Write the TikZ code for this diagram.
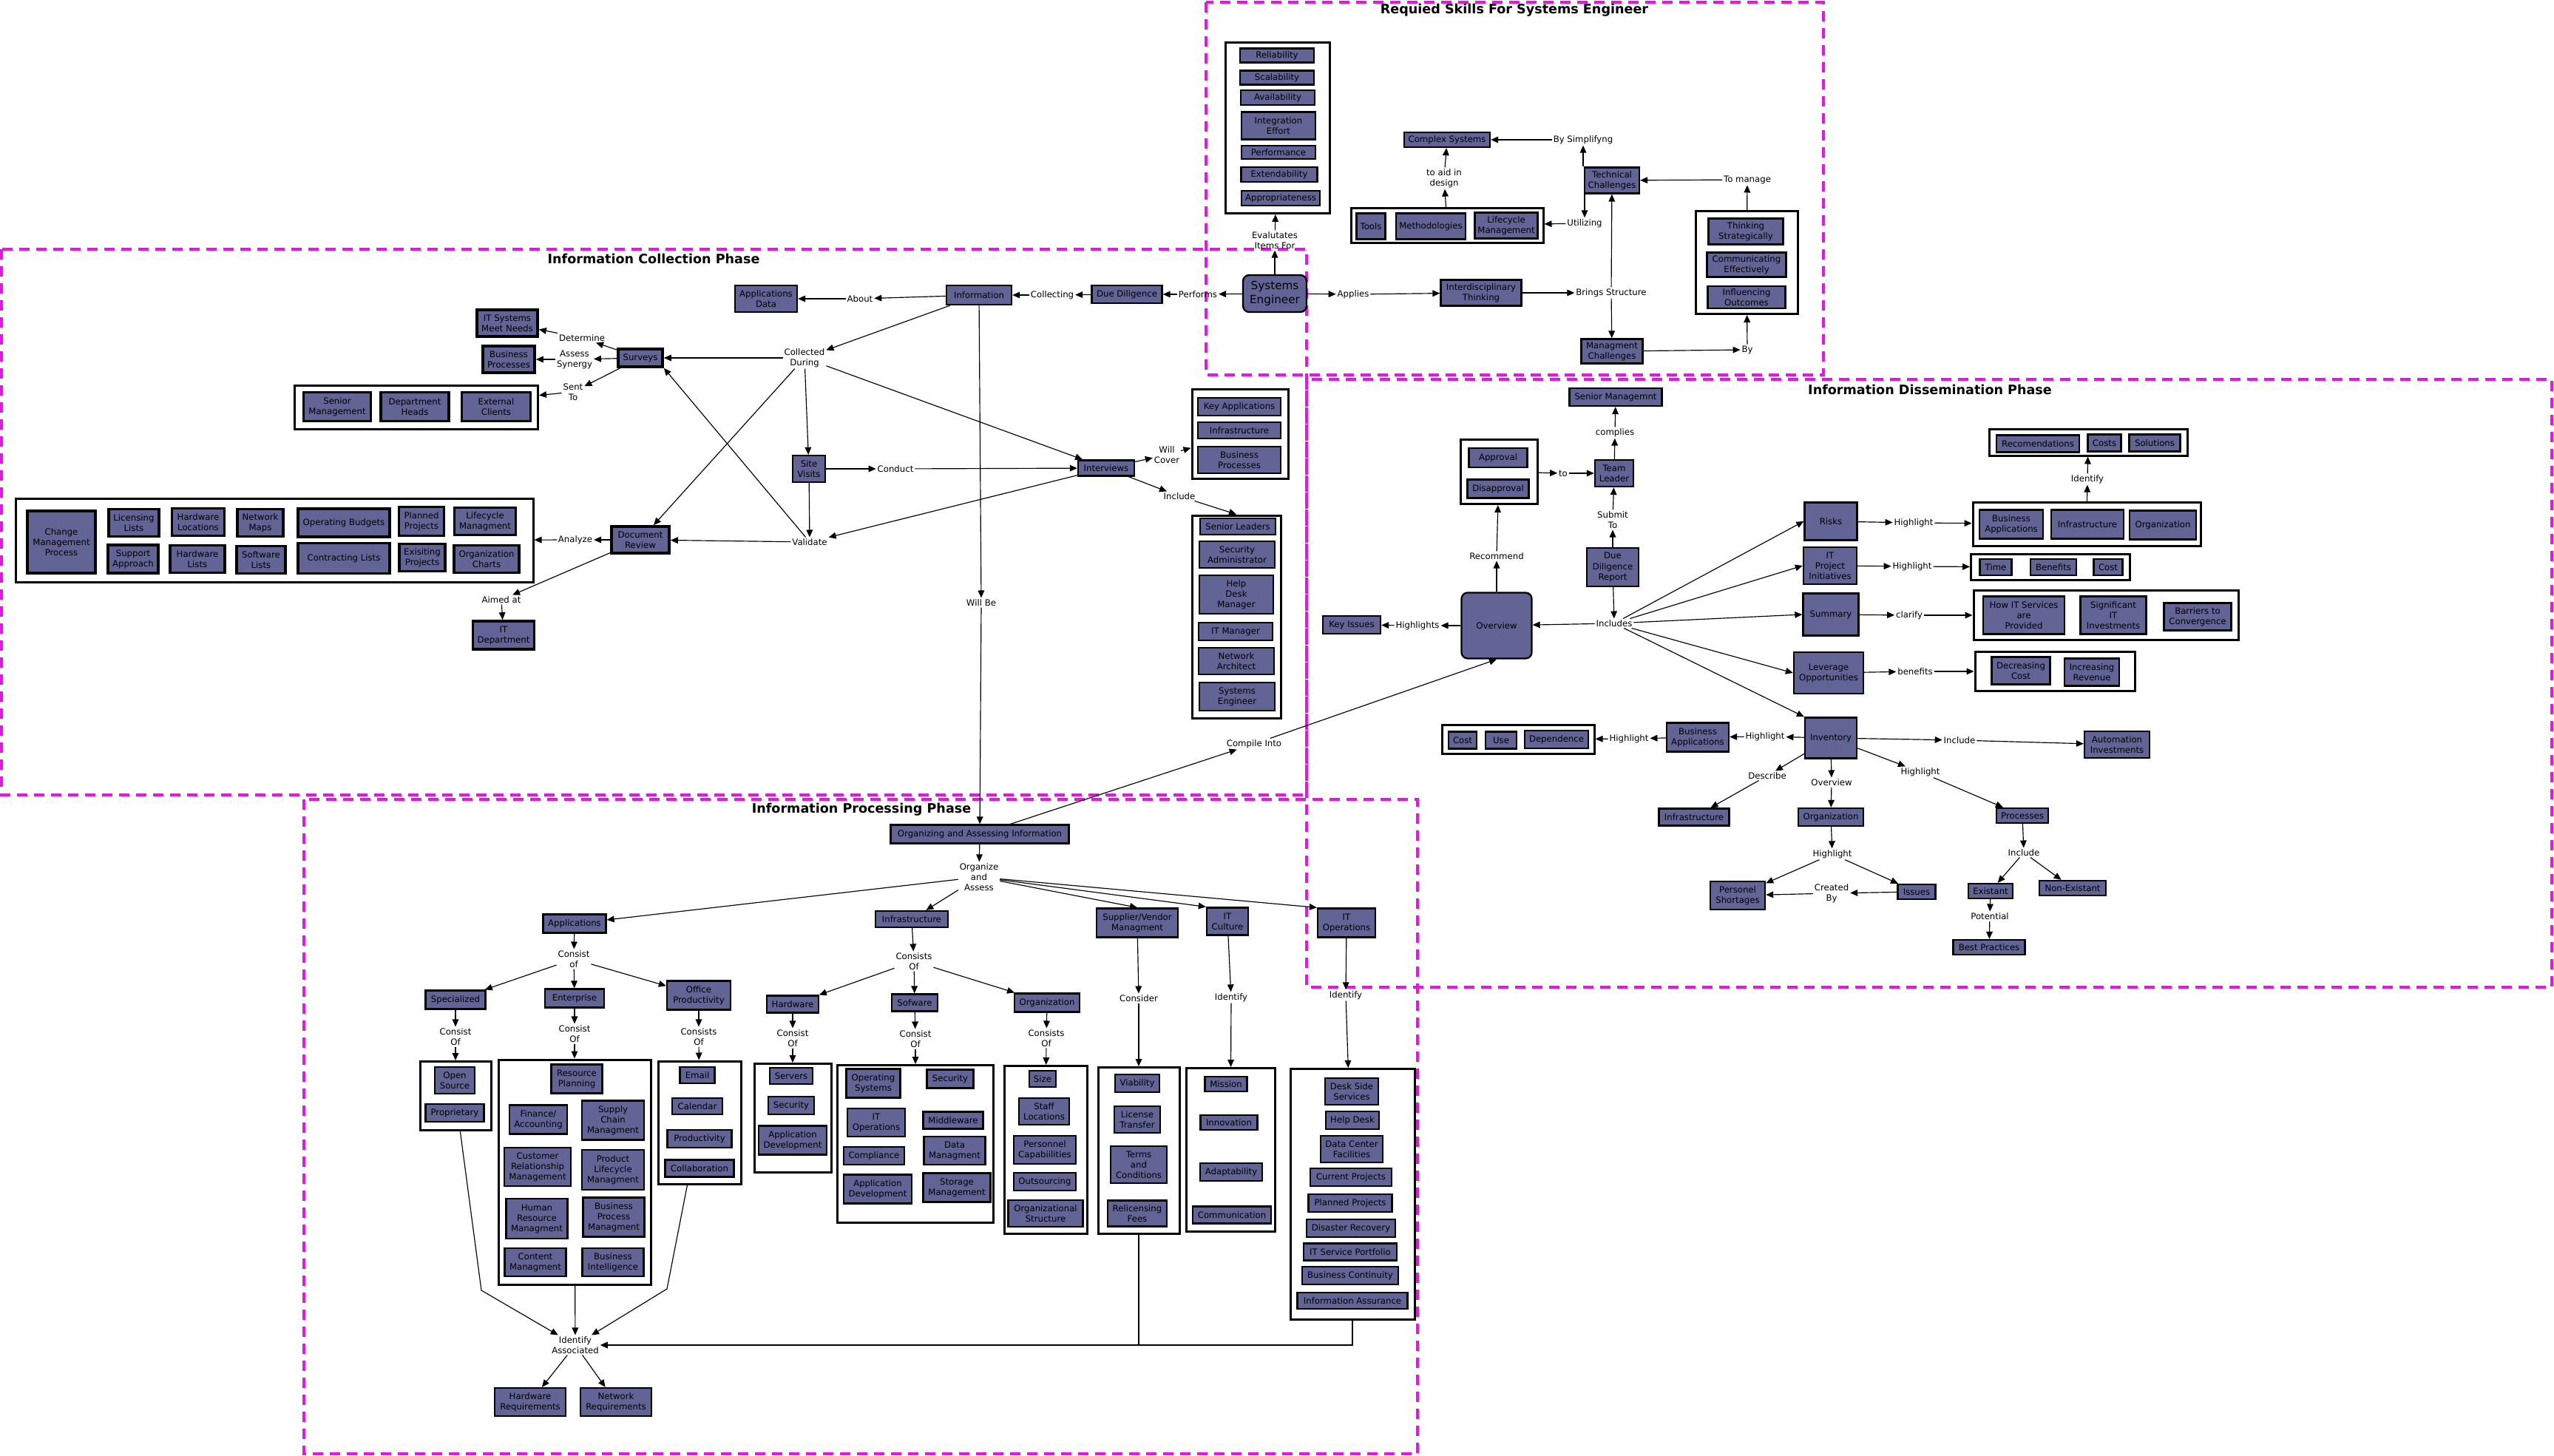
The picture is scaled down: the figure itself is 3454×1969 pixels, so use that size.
\documentclass[tikz,border=0pt]{standalone}
\usepackage{fontspec}
\setmainfont{DejaVu Sans}
\usetikzlibrary{arrows.meta}
\definecolor{nodefill}{RGB}{98,100,150}
\definecolor{phasemag}{RGB}{230,20,230}

\begin{document}
\begin{tikzpicture}[
  x=0.3mm, y=-0.3mm,
  font=\fontsize{10}{12}\selectfont,
  box/.style={draw, line width=0.7mm, fill=nodefill, align=center, inner sep=1pt},
  tbox/.style={box, line width=1.1mm},
  rbox/.style={box, rounded corners=2.5mm},
  grp/.style={draw, line width=0.9mm, fill=white, inner sep=0pt},
  lbl/.style={align=center, inner sep=1.5pt},
  wh/.style 2 args={minimum width=#1*0.3mm, minimum height=#2*0.3mm},
  ar/.style={-{Triangle[length=3mm,width=2.6mm]}, line width=0.35mm},
  ln/.style={line width=0.35mm},
  phase/.style={draw=phasemag, line width=1.2mm, dash pattern=on 4.2mm off 2.7mm},
  ttl/.style={font=\bfseries\fontsize{15}{18}\selectfont, inner sep=0pt}
]
\useasboundingbox (0,0) rectangle (3454,1969);
\draw[phase] (1631,3) rectangle (2466,507);
\draw[phase] (2,337) rectangle (1767,1075);
\draw[phase] (1767,513) rectangle (3451,1335);
\draw[phase] (411,1081) rectangle (1917,1966);

\node[ttl] (tskill) at (2048,14) {Requied Skills For Systems Engineer};
\node[ttl] (tcoll) at (884,350) {Information Collection Phase};
\node[ttl] (tdiss) at (2610,527) {Information Dissemination Phase};
\node[ttl] (tproc) at (1165,1095) {Information Processing Phase};

\node[grp, wh={141}{231}] (qual) at (1728,173) {};
\node[box, wh={100}{19}] (rel) at (1727,75) {Reliability};
\node[box, wh={100}{19}] (scal) at (1727,105) {Scalability};
\node[box, wh={100}{20}] (avail) at (1728,132) {Availability};
\node[box, wh={100}{37}] (integ) at (1729,170) {Integration\\Effort};
\node[box, wh={100}{18}] (perf) at (1729,206) {Performance};
\node[box, wh={103}{20}] (extd) at (1730,236) {Extendability};
\node[box, wh={106}{20}] (appr) at (1732,268) {Appropriateness};
\node[box, wh={116}{20}] (cplx) at (1957,189) {Complex Systems};
\node[box, wh={74}{35}] (tech) at (2180,244) {Technical\\Challenges};
\node[box, wh={83}{33}] (mgmt) at (2180,475) {Managment\\Challenges};
\node[box, wh={109}{35}] (inter) at (2003,396) {Interdisciplinary\\Thinking};
\node[grp, wh={138}{139}] (thinkg) at (2362,355) {};
\node[box, wh={101}{35}] (strat) at (2361,313) {Thinking\\Strategically};
\node[box, wh={107}{33}] (comm) at (2362,358) {Communicating\\Effectively};
\node[box, wh={105}{30}] (infl) at (2362,402) {Influencing\\Outcomes};
\node[grp, wh={260}{47}] (toolg) at (1957,305) {};
\node[box, wh={39}{35}] (tools) at (1854,306) {Tools};
\node[box, wh={94}{35}] (meth) at (1935,306) {Methodologies};
\node[box, wh={85}{35}] (lifec) at (2037,305) {Lifecycle\\Management};
\node[rbox, wh={86}{50}, font=\fontsize{13}{16}\selectfont] (se) at (1724,397) {Systems\\Engineer};
\node[lbl] (evl) at (1724,325) {Evalutates\\Items For};
\node[lbl] (appl) at (1830,398) {Applies};
\node[lbl] (brings) at (2179,396) {Brings Structure};
\node[lbl] (simp) at (2141,189) {By Simplifyng};
\node[lbl] (aid) at (1953,241) {to aid in\\design};
\node[lbl] (util) at (2143,302) {Utilizing};
\node[lbl] (tomng) at (2363,243) {To manage};
\node[lbl] (byl) at (2363,473) {By};

\node[lbl] (perfm) at (1620,398) {Performs};
\node[box, wh={95}{24}] (dd) at (1524,398) {Due Diligence};
\node[lbl] (collg) at (1423,399) {Collecting};
\node[box, wh={88}{26}] (info) at (1324,399) {Information};
\node[lbl] (about) at (1163,404) {About};
\node[box, wh={84}{36}] (appdata) at (1036,404) {Applications\\Data};
\node[lbl] (colld) at (1088,484) {Collected\\During};
\node[box, wh={44}{36}] (site) at (1094,634) {Site\\Visits};
\node[lbl] (conduct) at (1211,634) {Conduct};
\node[box, wh={76}{21}] (intv) at (1496,633) {Interviews};
\node[lbl] (cover) at (1578,615) {Will\\Cover};
\node[grp, wh={130}{121}] (topics) at (1677,587) {};
\node[box, wh={112}{24}] (keyapp) at (1676,550) {Key Applications};
\node[box, wh={112}{22}] (tinfra) at (1676,582) {Infrastructure};
\node[box, wh={112}{36}] (tbusp) at (1676,622) {Business\\Processes};
\node[lbl] (incl) at (1595,671) {Include};
\node[grp, wh={120}{274}] (people) at (1672,834) {};
\node[box, wh={102}{22}] (snrl) at (1674,712) {Senior Leaders};
\node[box, wh={102}{36}] (secadm) at (1673,750) {Security\\Administrator};
\node[box, wh={100}{52}] (hdm) at (1672,804) {Help\\Desk\\Manager};
\node[box, wh={100}{24}] (itmgr) at (1671,854) {IT Manager};
\node[box, wh={102}{36}] (netarch) at (1672,894) {Network\\Architect};
\node[box, wh={102}{38}] (syseng) at (1673,942) {Systems\\Engineer};
\node[lbl] (valid) at (1095,733) {Validate};
\node[lbl] (willbe) at (1327,815) {Will Be};
\node[lbl] (compile) at (1696,1006) {Compile Into};
\node[tbox, wh={60}{24}] (surveys) at (866,484) {Surveys};
\node[lbl] (determ) at (787,457) {Determine};
\node[tbox, wh={82}{36}] (itsys) at (686,437) {IT Systems\\Meet Needs};
\node[lbl] (assess) at (777,486) {Assess\\Synergy};
\node[tbox, wh={70}{36}] (cbusp) at (688,486) {Business\\Processes};
\node[lbl] (sent) at (775,530) {Sent\\To};
\node[grp, wh={329}{59}] (stake) at (563,551) {};
\node[tbox, wh={91}{39}] (snrm) at (456,550) {Senior\\Management};
\node[tbox, wh={92}{39}] (deph) at (561,550) {Department\\Heads};
\node[tbox, wh={93}{39}] (extc) at (671,550) {External\\Clients};
\node[grp, wh={700}{113}] (docs) at (371,731) {};
\node[tbox, wh={92}{84}] (chg) at (83,733) {Change\\Management\\Process};
\node[tbox, wh={68}{37}] (lic) at (181,707) {Licensing\\Lists};
\node[tbox, wh={71}{37}] (hwloc) at (268,706) {Hardware\\Locations};
\node[tbox, wh={62}{37}] (netmap) at (352,707) {Network\\Maps};
\node[tbox, wh={124}{38}] (opbud) at (465,707) {Operating Budgets};
\node[tbox, wh={61}{39}] (plan) at (570,705) {Planned\\Projects};
\node[tbox, wh={83}{37}] (lifem) at (656,705) {Lifecycle\\Managment};
\node[tbox, wh={68}{38}] (supp) at (180,756) {Support\\Approach};
\node[tbox, wh={74}{37}] (hwl) at (267,756) {Hardware\\Lists};
\node[tbox, wh={66}{37}] (swl) at (353,757) {Software\\Lists};
\node[tbox, wh={124}{41}] (contr) at (465,755) {Contracting Lists};
\node[tbox, wh={62}{37}] (exis) at (571,754) {Exisiting\\Projects};
\node[tbox, wh={88}{37}] (orgch) at (658,756) {Organization\\Charts};
\node[lbl] (analyze) at (778,730) {Analyze};
\node[tbox, wh={78}{36}] (docrev) at (866,730) {Document\\Review};
\node[lbl] (aimed) at (678,811) {Aimed at};
\node[tbox, wh={83}{38}] (itdept) at (681,859) {IT\\Department};

\node[box, wh={125}{24}] (snrmg) at (2185,537) {Senior Managemnt};
\node[lbl] (complies) at (2184,585) {complies};
\node[box, wh={52}{36}] (team) at (2183,640) {Team\\Leader};
\node[lbl] (tolbl) at (2114,640) {to};
\node[grp, wh={104}{87}] (apgrp) at (2027,638) {};
\node[box, wh={79}{26}] (approv) at (2026,619) {Approval};
\node[box, wh={83}{25}] (disap) at (2026,661) {Disapproval};
\node[lbl] (submit) at (2181,703) {Submit\\To};
\node[box, wh={70}{52}] (ddr) at (2181,767) {Due\\Diligence\\Report};
\node[lbl] (includes) at (2183,843) {Includes};
\node[rbox, wh={95}{89}] (ovw) at (2024,846) {Overview};
\node[lbl] (recmd) at (2024,752) {Recommend};
\node[lbl] (hlts) at (1917,846) {Highlights};
\node[box, wh={78}{24}] (keyiss) at (1828,845) {Key Issues};
\node[box, wh={71}{51}] (risks) at (2476,705) {Risks};
\node[lbl] (hlrisk) at (2588,707) {Highlight};
\node[box, wh={72}{50}] (itpi) at (2475,765) {IT\\Project\\Initiatives};
\node[lbl] (hlitpi) at (2586,766) {Highlight};
\node[box, wh={75}{57}] (summ) at (2476,831) {Summary};
\node[lbl] (clarify) at (2582,832) {clarify};
\node[box, wh={94}{56}] (lever) at (2473,910) {Leverage\\Opportunities};
\node[lbl] (benef) at (2590,908) {benefits};
\node[box, wh={70}{55}] (inv) at (2476,998) {Inventory};
\node[lbl] (inclinv) at (2650,1001) {Include};
\node[box, wh={88}{36}] (autom) at (2863,1007) {Automation\\Investments};
\node[lbl] (hlinv) at (2387,996) {Highlight};
\node[box, wh={84}{39}] (busapp) at (2296,997) {Business\\Applications};
\node[lbl] (hlba) at (2203,999) {Highlight};
\node[grp, wh={206}{39}] (costg) at (2053,1000) {};
\node[box, wh={38}{23}] (cost) at (1978,1001) {Cost};
\node[box, wh={42}{23}] (use) at (2030,1001) {Use};
\node[box, wh={86}{24}] (depend) at (2105,1000) {Dependence};
\node[lbl] (descr) at (2390,1049) {Describe};
\node[box, wh={95}{23}] (iinfra) at (2291,1105) {Infrastructure};
\node[lbl] (ovlbl) at (2477,1058) {Overview};
\node[box, wh={88}{24}] (iorg) at (2476,1105) {Organization};
\node[lbl] (hlproc) at (2597,1044) {Highlight};
\node[lbl] (hlorg) at (2478,1155) {Highlight};
\node[box, wh={74}{38}] (persh) at (2350,1211) {Personel\\Shortages};
\node[lbl] (created) at (2477,1208) {Created\\By};
\node[box, wh={51}{20}] (issues) at (2592,1206) {Issues};
\node[box, wh={70}{20}] (procs) at (2735,1103) {Processes};
\node[lbl] (inclp) at (2737,1153) {Include};
\node[box, wh={60}{20}] (exist) at (2692,1205) {Existant};
\node[box, wh={90}{20}] (nonex) at (2803,1201) {Non-Existant};
\node[lbl] (potent) at (2691,1239) {Potential};
\node[box, wh={97}{20}] (bestp) at (2690,1281) {Best Practices};
\node[grp, wh={268}{36}] (recg) at (2824,598) {};
\node[box, wh={112}{23}] (recm) at (2756,600) {Recomendations};
\node[box, wh={45}{23}] (costs) at (2846,599) {Costs};
\node[box, wh={69}{23}] (solut) at (2914,599) {Solutions};
\node[lbl] (ident) at (2823,648) {Identify};
\node[grp, wh={308}{59}] (riskg) at (2822,709) {};
\node[box, wh={86}{39}] (rbusapp) at (2720,709) {Business\\Applications};
\node[box, wh={98}{39}] (rinfra) at (2823,709) {Infrastructure};
\node[box, wh={90}{39}] (rorg) at (2925,710) {Organization};
\node[grp, wh={215}{35}] (timeg) at (2773,767) {};
\node[box, wh={43}{22}] (time) at (2699,767) {Time};
\node[box, wh={62}{22}] (bnfts) at (2777,767) {Benefits};
\node[box, wh={39}{22}] (tcost) at (2851,767) {Cost};
\node[grp, wh={358}{67}] (sumg) at (2848,832) {};
\node[box, wh={110}{51}] (howit) at (2737,832) {How IT Services\\are\\Provided};
\node[box, wh={89}{51}] (sigit) at (2858,832) {Significant\\IT\\Investments};
\node[box, wh={91}{37}] (barr) at (2972,834) {Barriers to\\Convergence};
\node[grp, wh={216}{53}] (levg) at (2779,908) {};
\node[box, wh={79}{37}] (decr) at (2733,907) {Decreasing\\Cost};
\node[box, wh={74}{37}] (incr) at (2829,909) {Increasing\\Revenue};

\node[box, wh={241}{25}] (oai) at (1325,1128) {Organizing and Assessing Information};
\node[lbl] (orgass) at (1324,1186) {Organize\\and\\Assess};
\node[box, wh={85}{25}] (apps) at (777,1249) {Applications};
\node[lbl] (cons1) at (776,1297) {Consist\\of};
\node[box, wh={81}{25}] (spec) at (616,1352) {Specialized};
\node[box, wh={80}{25}] (ent) at (777,1350) {Enterprise};
\node[box, wh={86}{39}] (office) at (945,1346) {Office\\Productivity};
\node[box, wh={98}{22}] (pinfra) at (1233,1243) {Infrastructure};
\node[lbl] (cons2) at (1236,1300) {Consists\\Of};
\node[box, wh={70}{23}] (hw) at (1072,1358) {Hardware};
\node[box, wh={62}{23}] (sw) at (1237,1356) {Sofware};
\node[box, wh={88}{25}] (porg) at (1416,1356) {Organization};
\node[box, wh={110}{39}] (supv) at (1538,1248) {Supplier/Vendor\\Managment};
\node[box, wh={56}{37}] (itcul) at (1660,1246) {IT\\Culture};
\node[box, wh={78}{39}] (itops) at (1821,1248) {IT\\Operations};
\node[lbl] (consid) at (1540,1350) {Consider};
\node[lbl] (idcul) at (1665,1349) {Identify};
\node[lbl] (idops) at (1820,1346) {Identify};
\node[lbl] (cof1) at (616,1402) {Consist\\Of};
\node[lbl] (cof2) at (777,1398) {Consist\\Of};
\node[lbl] (cof3) at (945,1402) {Consists\\Of};
\node[lbl] (cof4) at (1072,1404) {Consist\\Of};
\node[lbl] (cof5) at (1238,1405) {Consist\\Of};
\node[lbl] (cof6) at (1415,1404) {Consists\\Of};
\node[grp, wh={96}{93}] (specg) at (616,1482) {};
\node[box, wh={54}{36}] (opensrc) at (615,1461) {Open\\Source};
\node[box, wh={79}{24}] (propr) at (615,1505) {Proprietary};
\node[grp, wh={206}{304}] (entg) at (777,1585) {};
\node[box, wh={69}{39}] (erp) at (780,1459) {Resource\\Planning};
\node[box, wh={78}{39}] (fin) at (728,1514) {Finance/\\Accounting};
\node[box, wh={84}{53}] (scm) at (829,1515) {Supply\\Chain\\Managment};
\node[box, wh={90}{52}] (crm) at (727,1578) {Customer\\Relationship\\Management};
\node[box, wh={84}{54}] (plm) at (829,1582) {Product\\Lifecycle\\Managment};
\node[box, wh={83}{54}] (hrm) at (726,1648) {Human\\Resource\\Managment};
\node[box, wh={83}{53}] (bpm) at (830,1646) {Business\\Process\\Managment};
\node[box, wh={83}{38}] (cm) at (724,1707) {Content\\Managment};
\node[box, wh={83}{38}] (bi) at (829,1707) {Business\\Intelligence};
\node[grp, wh={112}{166}] (offg) at (946,1518) {};
\node[box, wh={47}{22}] (email) at (943,1454) {Email};
\node[box, wh={68}{22}] (cal) at (943,1496) {Calendar};
\node[box, wh={87}{24}] (prod) at (946,1540) {Productivity};
\node[box, wh={93}{23}] (collab) at (946,1580) {Collaboration};
\node[grp, wh={104}{147}] (hwg) at (1072,1512) {};
\node[box, wh={58}{22}] (servers) at (1070,1455) {Servers};
\node[box, wh={62}{24}] (hwsec) at (1070,1495) {Security};
\node[box, wh={92}{39}] (hwapp) at (1072,1542) {Application\\Development};
\node[grp, wh={211}{213}] (swg) at (1238,1547) {};
\node[box, wh={73}{39}] (os) at (1181,1465) {Operating\\Systems};
\node[box, wh={63}{25}] (swsec) at (1285,1459) {Security};
\node[box, wh={78}{38}] (switops) at (1185,1518) {IT\\Operations};
\node[box, wh={81}{23}] (mw) at (1289,1515) {Middleware};
\node[box, wh={82}{24}] (compl) at (1182,1563) {Compliance};
\node[box, wh={83}{38}] (dm) at (1291,1556) {Data\\Managment};
\node[box, wh={92}{39}] (swapp) at (1187,1608) {Application\\Development};
\node[box, wh={91}{39}] (stor) at (1294,1606) {Storage\\Management};
\node[grp, wh={112}{227}] (orgg) at (1414,1555) {};
\node[box, wh={36}{22}] (size) at (1410,1459) {Size};
\node[box, wh={68}{36}] (staff) at (1412,1503) {Staff\\Locations};
\node[box, wh={84}{38}] (pcap) at (1413,1555) {Personnel\\Capabiilities};
\node[box, wh={84}{24}] (outs) at (1413,1598) {Outsourcing};
\node[box, wh={101}{36}] (ostruct) at (1414,1641) {Organizational\\Structure};
\node[grp, wh={110}{225}] (supg) at (1540,1556) {};
\node[box, wh={60}{24}] (viab) at (1538,1465) {Viability};
\node[box, wh={62}{36}] (lict) at (1538,1514) {License\\Transfer};
\node[box, wh={76}{50}] (terms) at (1540,1575) {Terms\\and\\Conditions};
\node[box, wh={80}{35}] (relic) at (1538,1641) {Relicensing\\Fees};
\node[grp, wh={120}{221}] (culg) at (1664,1555) {};
\node[box, wh={57}{20}] (mission) at (1658,1466) {Mission};
\node[box, wh={77}{20}] (innov) at (1662,1518) {Innovation};
\node[box, wh={84}{24}] (adapt) at (1665,1585) {Adaptability};
\node[box, wh={106}{23}] (commun) at (1666,1643) {Communication};
\node[grp, wh={168}{339}] (opsg) at (1829,1615) {};
\node[box, wh={72}{36}] (desk) at (1828,1476) {Desk Side\\Services};
\node[box, wh={72}{24}] (helpd) at (1829,1515) {Help Desk};
\node[box, wh={84}{36}] (dcf) at (1828,1554) {Data Center\\Facilities};
\node[box, wh={110}{24}] (curp) at (1827,1592) {Current Projects};
\node[box, wh={113}{24}] (planp) at (1826,1627) {Planned Projects};
\node[box, wh={120}{24}] (disr) at (1827,1661) {Disaster Recovery};
\node[box, wh={126}{23}] (itsp) at (1826,1693) {IT Service Portfolio};
\node[box, wh={130}{24}] (bcont) at (1826,1725) {Business Continuity};
\node[box, wh={149}{22}] (infoa) at (1829,1759) {Information Assurance};
\node[lbl] (idas) at (778,1819) {Identify\\Associated};
\node[box, wh={96}{38}] (hwreq) at (717,1896) {Hardware\\Requirements};
\node[box, wh={96}{38}] (netreq) at (833,1896) {Network\\Requirements};
\coordinate (bsp) at (651,1745);
\coordinate (bof) at (902,1743);

\draw[ar] (se) -- (evl);
\draw[ar] (evl) -- (qual);
\draw[ar] (se) -- (appl);
\draw[ar] (appl) -- (inter);
\draw[ar] (inter) -- (brings);
\draw[ar] (brings) -- (tech);
\draw[ar] (brings) -- (mgmt);
\draw[ar] (tech.north -| simp) -- (simp);
\draw[ar] (simp) -- (cplx);
\draw[ar] (tech.south -| util) -- (util);
\draw[ar] (util) -- (toolg);
\draw[ar] (toolg) -- (aid);
\draw[ar] (aid) -- (cplx);
\draw[ar] (thinkg) -- (tomng);
\draw[ar] (tomng) -- (tech);
\draw[ar] (mgmt) -- (byl);
\draw[ar] (byl) -- (thinkg);
\draw[ar] (se) -- (perfm);
\draw[ar] (perfm) -- (dd);

\draw[ar] (dd) -- (collg);
\draw[ar] (collg) -- (info);
\draw[ar] (info) -- (about);
\draw[ar] (about) -- (appdata);
\draw[ar] (info) -- (colld);
\draw[ar] (colld) -- (surveys);
\draw[ar] (colld) -- (site);
\draw[ar] (colld) -- (intv);
\draw[ar] (colld) -- (docrev);
\draw[ar] (site) -- (conduct);
\draw[ar] (conduct) -- (intv);
\draw[ar] (site) -- (valid);
\draw[ar] (intv) -- (valid);
\draw[ar] (valid) -- (surveys.south east);
\draw[ar] (valid) -- (docrev);
\draw[ar] (intv) -- (cover);
\draw[ar] (cover) -- (topics);
\draw[ar] (intv) -- (incl);
\draw[ar] (incl) -- (people.north);
\draw[ar] (info) -- (willbe);
\draw[ar] (willbe) -- (oai);
\draw[ar] (surveys) -- (determ);
\draw[ar] (determ) -- (itsys);
\draw[ar] (surveys) -- (assess);
\draw[ar] (assess) -- (cbusp);
\draw[ar] (surveys) -- (sent);
\draw[ar] (sent) -- (stake);
\draw[ar] (docrev) -- (analyze);
\draw[ar] (analyze) -- (docs);
\draw[ar] (docrev) -- (aimed);
\draw[ar] (aimed) -- (itdept);
\draw[ar] (oai) -- (compile);
\draw[ar] (compile) -- (ovw.south);

\draw[ar] (ddr) -- (submit);
\draw[ar] (submit) -- (team);
\draw[ar] (apgrp) -- (tolbl);
\draw[ar] (tolbl) -- (team);
\draw[ar] (team) -- (complies);
\draw[ar] (complies) -- (snrmg);
\draw[ar] (ddr) -- (includes);
\draw[ar] (includes) -- (ovw);
\draw[ar] (includes) -- (risks.west);
\draw[ar] (includes) -- (itpi.west);
\draw[ar] (includes) -- (summ.west);
\draw[ar] (includes) -- (lever.west);
\draw[ar] (includes) -- (inv.north west);
\draw[ar] (ovw) -- (recmd);
\draw[ar] (recmd) -- (apgrp);
\draw[ar] (ovw) -- (hlts);
\draw[ar] (hlts) -- (keyiss);
\draw[ar] (risks) -- (hlrisk);
\draw[ar] (hlrisk) -- (riskg);
\draw[ar] (itpi) -- (hlitpi);
\draw[ar] (hlitpi) -- (timeg);
\draw[ar] (summ) -- (clarify);
\draw[ar] (clarify) -- (sumg);
\draw[ar] (lever) -- (benef);
\draw[ar] (benef) -- (levg);
\draw[ar] (riskg) -- (ident);
\draw[ar] (ident) -- (recg);
\draw[ar] (inv) -- (hlinv);
\draw[ar] (hlinv) -- (busapp);
\draw[ar] (busapp) -- (hlba);
\draw[ar] (hlba) -- (costg);
\draw[ar] (inv) -- (inclinv);
\draw[ar] (inclinv) -- (autom);
\draw[ar] (inv) -- (descr);
\draw[ar] (descr) -- (iinfra);
\draw[ar] (inv) -- (ovlbl);
\draw[ar] (ovlbl) -- (iorg);
\draw[ar] (iorg) -- (hlorg);
\draw[ar] (hlorg) -- (persh);
\draw[ar] (hlorg) -- (issues);
\draw[ar] (issues) -- (created);
\draw[ar] (created) -- (persh);
\draw[ar] (inv) -- (hlproc);
\draw[ar] (hlproc) -- (procs);
\draw[ar] (procs) -- (inclp);
\draw[ar] (inclp) -- (exist);
\draw[ar] (inclp) -- (nonex);
\draw[ar] (exist) -- (potent);
\draw[ar] (potent) -- (bestp);

\draw[ar] (oai) -- (orgass);
\draw[ar] (orgass) -- (apps);
\draw[ar] (orgass) -- (pinfra);
\draw[ar] (orgass) -- (supv.north);
\draw[ar] (orgass) -- (itcul.north west);
\draw[ar] (orgass) -- (itops.north west);
\draw[ar] (apps) -- (cons1);
\draw[ar] (cons1) -- (spec);
\draw[ar] (cons1) -- (ent);
\draw[ar] (cons1) -- (office);
\draw[ar] (pinfra) -- (cons2);
\draw[ar] (cons2) -- (hw);
\draw[ar] (cons2) -- (sw);
\draw[ar] (cons2) -- (porg);
\draw[ar] (spec) -- (cof1);
\draw[ar] (cof1) -- (specg);
\draw[ar] (ent) -- (cof2);
\draw[ar] (cof2) -- (entg);
\draw[ar] (office) -- (cof3);
\draw[ar] (cof3) -- (offg);
\draw[ar] (hw) -- (cof4);
\draw[ar] (cof4) -- (hwg);
\draw[ar] (sw) -- (cof5);
\draw[ar] (cof5) -- (swg);
\draw[ar] (porg) -- (cof6);
\draw[ar] (cof6) -- (orgg);
\draw[ar] (supv) -- (consid);
\draw[ar] (consid) -- (supg);
\draw[ar] (itcul) -- (idcul);
\draw[ar] (idcul) -- (culg);
\draw[ar] (itops) -- (idops);
\draw[ar] (idops) -- (opsg);
\draw[ar] (specg) -- (bsp) -- (idas);
\draw[ar] (entg) -- (idas);
\draw[ar] (offg) -- (bof) -- (idas);
\draw[ar] (supg.south) |- (idas);
\draw[ln] (opsg.south) |- (supg.south |- idas);
\draw[ar] (idas) -- (hwreq);
\draw[ar] (idas) -- (netreq);
\end{tikzpicture}
\end{document}
